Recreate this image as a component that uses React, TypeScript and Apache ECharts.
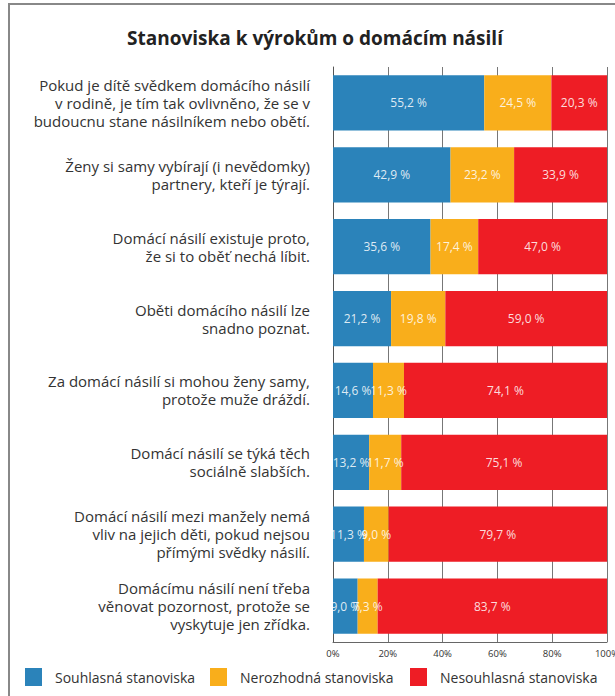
import React, { useEffect, useRef } from "react";
import * as echarts from "echarts";

const categories = [
  "Pokud je dítě svědkem domácího násilí\nv rodině, je tím tak ovlivněno, že se v\nbudoucnu stane násilníkem nebo obětí.",
  "Ženy si samy vybírají (i nevědomky)\npartnery, kteří je týrají.",
  "Domácí násilí existuje proto,\nže si to oběť nechá líbit.",
  "Oběti domácího násilí lze\nsnadno poznat.",
  "Za domácí násilí si mohou ženy samy,\nprotože muže dráždí.",
  "Domácí násilí se týká těch\nsociálně slabších.",
  "Domácí násilí mezi manžely nemá\nvliv na jejich děti, pokud nejsou\npřímými svědky násilí.",
  "Domácímu násilí není třeba\nvěnovat pozornost, protože se\nvyskytuje jen zřídka.",
];
const souhlasna = [55.2, 42.9, 35.6, 21.2, 14.6, 13.2, 11.3, 9.0];
const nerozhodna = [24.5, 23.2, 17.4, 19.8, 11.3, 11.7, 9.0, 7.3];
const nesouhlasna = [20.3, 33.9, 47.0, 59.0, 74.1, 75.1, 79.7, 83.7];
const seriesNames = ["Souhlasná stanoviska", "Nerozhodná stanoviska", "Nesouhlasná stanoviska"];
const colors = ["#2B83BA", "#F9AE1B", "#EE1D25"];
const title = "Stanoviska k výrokům o domácím násilí";

const FONT = "'Open Sans', Lato, sans-serif";

export default function App() {
  const ref = useRef<HTMLDivElement>(null);
  useEffect(() => {
    document.body.style.margin = "0";
    const chart = echarts.init(ref.current!, undefined, { renderer: "svg" });
    const fmt = (p: any) => p.value.toFixed(1).replace(".", ",") + " %";
    const mk = (name: string, data: number[], color: string) => ({
      name,
      type: "bar",
      stack: "total",
      data,
      barCategoryGap: "23%",
      itemStyle: { color },
      label: {
        show: true,
        position: "inside",
        formatter: fmt,
        color: "rgba(255,255,255,0.85)",
        fontSize: 12,
        fontFamily: FONT,
      },
    });
    const legendBase = {
      top: 668,
      padding: 0,
      itemWidth: 17,
      itemHeight: 18,
      icon: "rect",
      textStyle: { fontSize: 14, color: "#333", fontFamily: FONT, padding: [0, 0, 0, 8] },
    };
    chart.setOption({
      animation: false,
      graphic: [
        {
          type: "rect",
          shape: { x: 9, y: 4, width: 700, height: 800 },
          style: { fill: "none", stroke: "#888", lineWidth: 2 },
          silent: true,
        },
        {
          type: "text",
          x: 315,
          y: 38,
          style: {
            text: title,
            align: "center",
            verticalAlign: "middle",
            fontSize: 19,
            fontWeight: "bold",
            fill: "#222",
            fontFamily: FONT,
          },
          silent: true,
        },
      ],
      legend: [
        { ...legendBase, left: 25, data: [seriesNames[0]] },
        { ...legendBase, left: 210, data: [seriesNames[1]] },
        { ...legendBase, left: 410, data: [seriesNames[2]] },
      ],
      grid: { left: 333, right: 8, top: 67, bottom: 54, containLabel: false, outerBoundsMode: "none" },
      xAxis: {
        type: "value",
        min: 0,
        max: 100,
        interval: 20,
        axisLabel: { formatter: "{value}%", fontSize: 9.5, color: "#333", fontFamily: FONT, margin: 6 },
        axisLine: { show: true, lineStyle: { color: "#666" } },
        axisTick: { show: false },
        splitLine: { show: true, lineStyle: { color: "#777", width: 1 } },
      },
      yAxis: {
        type: "category",
        inverse: true,
        data: categories,
        axisLine: { show: true, lineStyle: { color: "#555" } },
        axisTick: { show: false },
        axisLabel: {
          fontSize: 15,
          lineHeight: 18,
          color: "#333",
          fontFamily: FONT,
          margin: 23,
          align: "right",
        },
      },
      series: [
        mk(seriesNames[0], souhlasna, colors[0]),
        mk(seriesNames[1], nerozhodna, colors[1]),
        mk(seriesNames[2], nesouhlasna, colors[2]),
      ],
    });
    return () => chart.dispose();
  }, []);
  return <div ref={ref} style={{ width: 615, height: 696 }} />;
}
